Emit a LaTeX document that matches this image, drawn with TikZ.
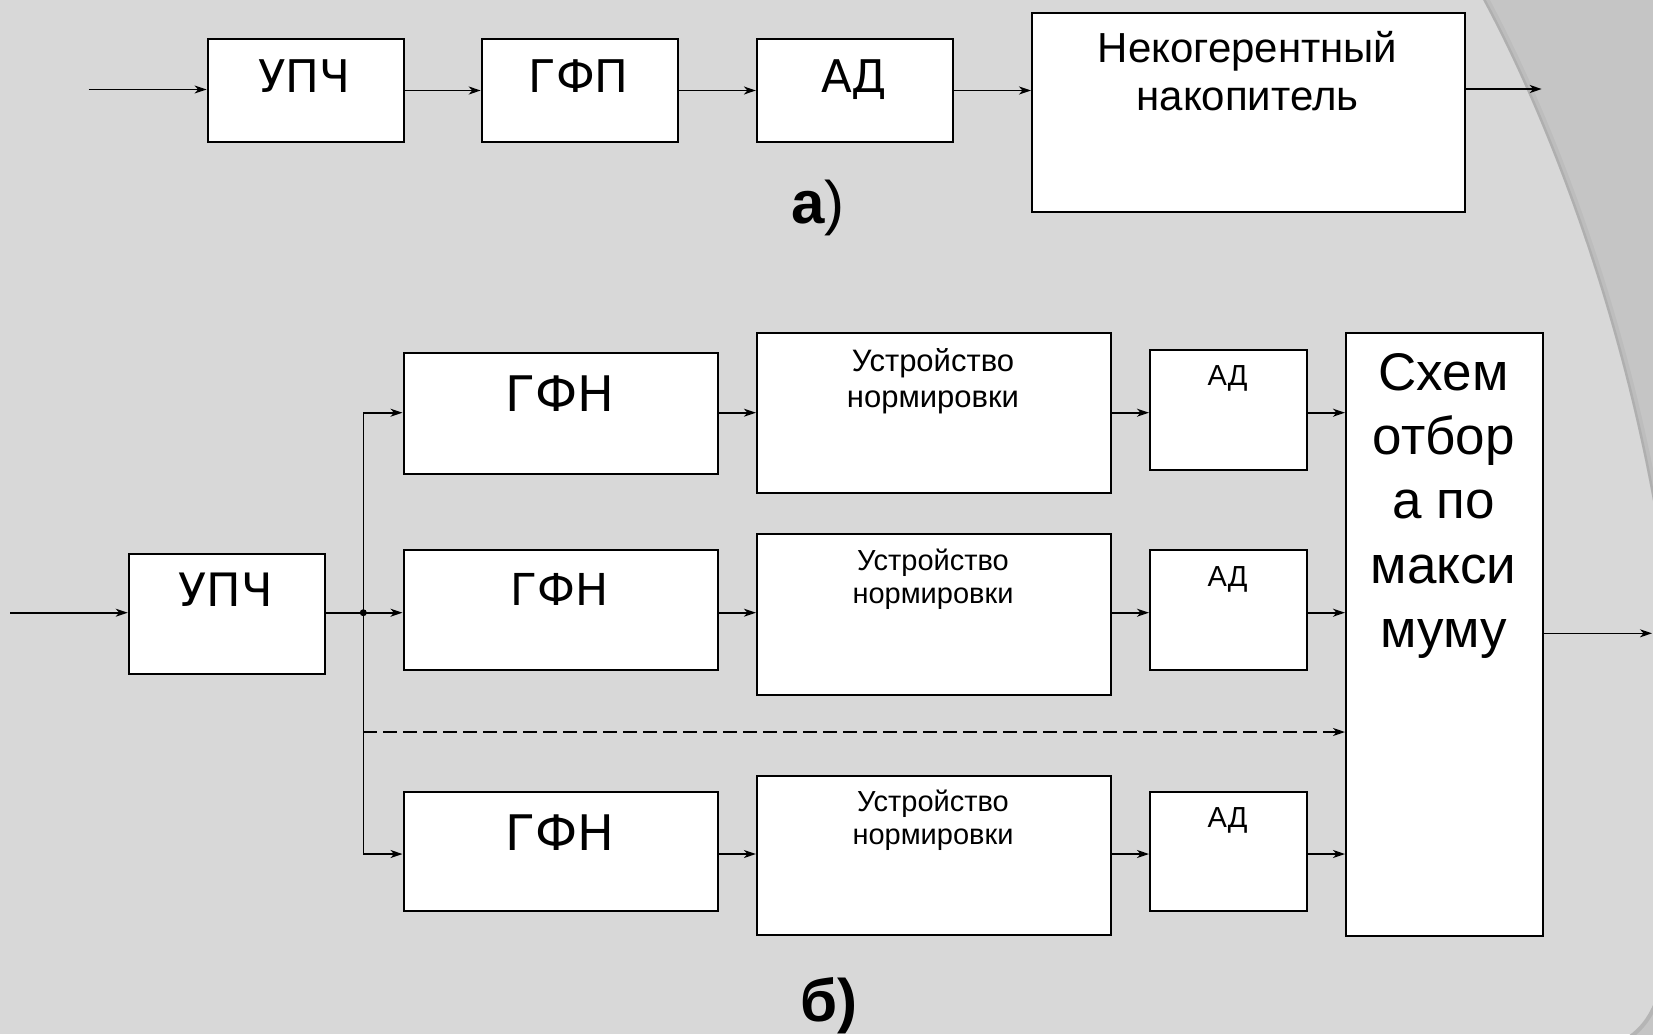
\documentclass[tikz,border=0pt]{standalone}
\usepackage{fontspec}
\setmainfont{Liberation Sans}
\newfontfamily\dvs{DejaVu Sans}
\usetikzlibrary{arrows.meta}
\definecolor{bgray}{RGB}{216,216,216}
\definecolor{dgray}{RGB}{197,197,197}

\begin{document}
\begin{tikzpicture}[x=1pt,y=-1pt,
  box/.style={draw=black,line width=2pt,fill=white,rectangle,inner sep=0pt,anchor=north west},
  wire/.style={line width=1.6pt,-{Stealth[length=12pt,width=8pt,inset=3.5pt]}},
  bus/.style={line width=1.6pt},
  dashwire/.style={wire,dash pattern=on 14pt off 6pt},
  lbl/.style={inner sep=0pt,text=black},
  big/.style={lbl,font=\dvs\fontsize{45}{54}\selectfont,anchor=base},
]
% page background with the darker corner areas
\useasboundingbox (0,0) rectangle (1653,1034);
\fill[bgray] (0,0) rectangle (1653,1034);
\fill[dgray] (1482,-2) .. controls (1540,105) and (1620,300) .. (1658,530) -- (1658,-2) -- cycle;
\begin{scope}
  \clip (1482,-2) .. controls (1540,105) and (1620,300) .. (1658,530) -- (1658,-2) -- cycle;
  \draw[black,opacity=0.04,line width=12pt] (1482,-2) .. controls (1540,105) and (1620,300) .. (1658,530);
  \draw[black,opacity=0.07,line width=5pt] (1482,-2) .. controls (1540,105) and (1620,300) .. (1658,530);
\end{scope}
\fill[dgray] (1628,1036) .. controls (1640,1028) and (1649,1016) .. (1656,998) -- (1656,1036) -- cycle;
\begin{scope}
  \clip (1628,1036) .. controls (1640,1028) and (1649,1016) .. (1656,998) -- (1656,1036) -- cycle;
  \draw[black,opacity=0.08,line width=8pt] (1628,1036) .. controls (1640,1028) and (1649,1016) .. (1656,998);
\end{scope}

% ---------- a) incoherent accumulation chain ----------
\node[box,minimum width=196pt,minimum height=103pt] (upchA) at (206.6,38) {};
\node[box,minimum width=196pt,minimum height=103pt] (gfp) at (480.7,38) {};
\node[box,minimum width=196pt,minimum height=103pt] (adA) at (755.9,38) {};
\node[box,minimum width=433pt,minimum height=199pt] (nak) at (1031,11.5) {};

\node[big] (upchAt) at (304.6,92) {УПЧ};
\node[big] (gfpt) at (578.7,92) {ГФП};
\node[big] (adAt) at (854,92) {АД};
\node[lbl,anchor=north,align=center,font=\fontsize{42}{48.3}\selectfont] (nakt) at (1247.5,31) {Некогерентный\\накопитель};

\coordinate (inA) at (88.6,89.5);
\coordinate (outA) at (1541.7,89);
\draw[wire] (inA) -- (inA -| upchA.west);
\draw[wire] (upchA.east) -- (gfp.west);
\draw[wire] (gfp.east) -- (adA.west);
\draw[wire] (adA.east) -- (adA.east -| nak.west);
\draw[wire] (outA -| nak.east) -- (outA);

\node[lbl,anchor=base,font=\fontsize{60}{70}\selectfont] (capA) at (818,223) {\textbf{а})};

% ---------- b) multichannel scheme ----------
\node[box,minimum width=196.6pt,minimum height=120.6pt] (upchB) at (127.7,552.7) {};
\node[big,font=\dvs\fontsize{46}{54}\selectfont] (upchBt) at (226,606.7) {УПЧ};

% bus rows
\coordinate (r1) at (363.3,412.7);
\coordinate (r2) at (363.3,612.7);
\coordinate (rd) at (363.3,732);
\coordinate (r3) at (363.3,854);

% row 1
\node[box,minimum width=314.5pt,minimum height=120.2pt] (gfn1) at (402.5,352.3) {};
\node[box,minimum width=354.1pt,minimum height=160.3pt] (ust1) at (755.9,332) {};
\node[box,minimum width=157pt,minimum height=120pt] (ad1) at (1149,349) {};
% row 2
\node[box,minimum width=314.5pt,minimum height=120.2pt] (gfn2) at (402.5,549.2) {};
\node[box,minimum width=354.1pt,minimum height=160.3pt] (ust2) at (755.9,533.4) {};
\node[box,minimum width=157pt,minimum height=120.2pt] (ad2) at (1149,549.2) {};
% row 3
\node[box,minimum width=314.5pt,minimum height=119.3pt] (gfn3) at (402.5,790.7) {};
\node[box,minimum width=354.1pt,minimum height=159.2pt] (ust3) at (755.9,774.8) {};
\node[box,minimum width=157pt,minimum height=119.2pt] (ad3) at (1149,790.6) {};
% selector
\node[box,minimum width=197.3pt,minimum height=602.5pt] (skh) at (1345,332) {};

% labels
\node[big,font=\dvs\fontsize{49}{58}\selectfont] (gfn1t) at (559.8,411) {ГФН};
\node[big,font=\dvs\fontsize{44}{52}\selectfont] (gfn2t) at (559.8,605) {ГФН};
\node[big,font=\dvs\fontsize{49}{58}\selectfont] (gfn3t) at (559.8,850) {ГФН};

\node[lbl,anchor=north,align=center,font=\fontsize{31}{36}\selectfont] (ust1t) at (933,348.4) {Устройство\\нормировки};
\node[lbl,anchor=north,align=center,font=\fontsize{29}{33}\selectfont] (ust2t) at (933,548.8) {Устройство\\нормировки};
\node[lbl,anchor=north,align=center,font=\fontsize{29}{33}\selectfont] (ust3t) at (933,789.3) {Устройство\\нормировки};

\node[lbl,anchor=base,font=\fontsize{29}{34}\selectfont] (ad1t) at (1227.5,385) {АД};
\node[lbl,anchor=base,font=\fontsize{29}{34}\selectfont] (ad2t) at (1227.5,586) {АД};
\node[lbl,anchor=base,font=\fontsize{29}{34}\selectfont] (ad3t) at (1227.5,827) {АД};

\node[lbl,anchor=north,align=center,font=\fontsize{53}{64.3}\selectfont] (skht) at (1443.6,353) {Схем\\отбор\\а по\\макси\\муму};

% connections
\coordinate (inB) at (10,612.7);
\coordinate (outB) at (1652,633.3);
\draw[wire] (inB) -- (inB -| upchB.west);
\draw[wire] (r2 -| upchB.east) -- (r2 -| gfn2.west);
\draw[wire] (r3) -- (r1) -- (r1 -| gfn1.west);
\draw[wire] (r3) -- (r3 -| gfn3.west);
\fill (r2) circle (3.5pt);
\draw[dashwire] (rd) -- (rd -| skh.west);

\draw[wire] (r1 -| gfn1.east) -- (r1 -| ust1.west);
\draw[wire] (r1 -| ust1.east) -- (r1 -| ad1.west);
\draw[wire] (r1 -| ad1.east) -- (r1 -| skh.west);
\draw[wire] (r2 -| gfn2.east) -- (r2 -| ust2.west);
\draw[wire] (r2 -| ust2.east) -- (r2 -| ad2.west);
\draw[wire] (r2 -| ad2.east) -- (r2 -| skh.west);
\draw[wire] (r3 -| gfn3.east) -- (r3 -| ust3.west);
\draw[wire] (r3 -| ust3.east) -- (r3 -| ad3.west);
\draw[wire] (r3 -| ad3.east) -- (r3 -| skh.west);
\draw[wire] (outB -| skh.east) -- (outB);

\node[lbl,anchor=base,font=\bfseries\fontsize{60}{70}\selectfont] (capB) at (829,1021) {б)};
\end{tikzpicture}
\end{document}
